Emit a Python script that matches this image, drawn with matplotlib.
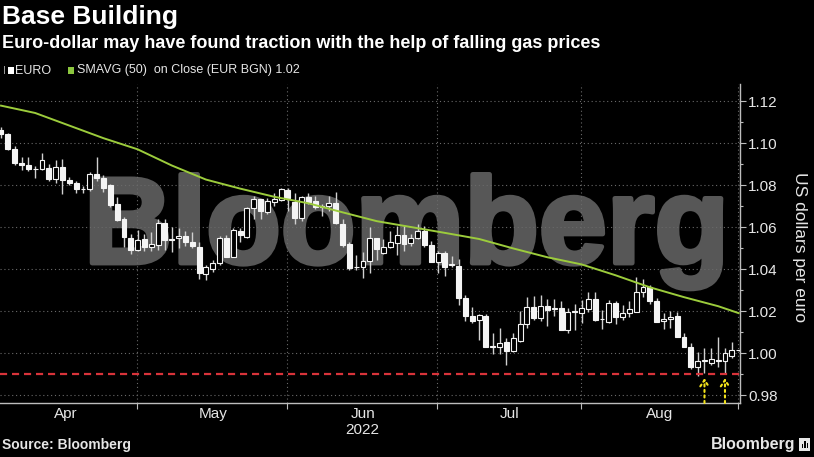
import matplotlib
matplotlib.use("Agg")
import matplotlib.pyplot as plt
from matplotlib.patches import Rectangle
import matplotlib.patheffects as pe
import pandas as pd

# ---------------- data ----------------
dates = pd.bdate_range("2022-04-01", "2022-08-31")

opens = [1.1066, 1.1046, 1.0972, 1.0906, 1.0899, 1.0880, 1.0880, 1.0885, 1.0830, 1.0888,
         1.0826, 1.0810, 1.0781, 1.0784, 1.0854, 1.0836, 1.0800, 1.0710, 1.0639, 1.0551,
         1.0493, 1.0545, 1.0505, 1.0516, 1.0622, 1.0545, 1.0550, 1.0558, 1.0529, 1.0508,
         1.0378, 1.0401, 1.0432, 1.0548, 1.0461, 1.0583, 1.0556, 1.0691, 1.0734, 1.0672,
         1.0722, 1.0730, 1.0778, 1.0722, 1.0646, 1.0746, 1.0725, 1.0698, 1.0700, 1.0715,
         1.0616, 1.0521, 1.0410, 1.0410, 1.0441, 1.0548, 1.0480, 1.0508, 1.0527, 1.0564,
         1.0524, 1.0548, 1.0583, 1.0516, 1.0437, 1.0480, 1.0421, 1.0416, 1.0263, 1.0179,
         1.0157, 1.0178, 1.0033, 1.0032, 1.0056, 1.0013, 1.0061, 1.0140, 1.0222, 1.0171,
         1.0225, 1.0211, 1.0215, 1.0112, 1.0199, 1.0194, 1.0210, 1.0258, 1.0162, 1.0151,
         1.0242, 1.0175, 1.0194, 1.0199, 1.0294, 1.0315, 1.0251, 1.0154, 1.0162, 1.0178,
         1.0080, 1.0029, 0.9934, 0.9966, 0.9956, 0.9967, 0.9966, 0.9988, 1.0014]
highs = [1.1076, 1.1048, 1.0990, 1.0937, 1.0936, 1.0893, 1.0953, 1.0900, 1.0923, 1.0924,
         1.0838, 1.0820, 1.0797, 1.0866, 1.0936, 1.0852, 1.0806, 1.0745, 1.0651, 1.0571,
         1.0590, 1.0570, 1.0576, 1.0640, 1.0641, 1.0600, 1.0595, 1.0585, 1.0578, 1.0529,
         1.0420, 1.0444, 1.0558, 1.0566, 1.0598, 1.0598, 1.0697, 1.0748, 1.0737, 1.0740,
         1.0765, 1.0787, 1.0786, 1.0765, 1.0750, 1.0765, 1.0750, 1.0710, 1.0749, 1.0770,
         1.0640, 1.0530, 1.0471, 1.0484, 1.0601, 1.0550, 1.0545, 1.0582, 1.0606, 1.0613,
         1.0570, 1.0615, 1.0605, 1.0535, 1.0486, 1.0486, 1.0463, 1.0450, 1.0277, 1.0220,
         1.0187, 1.0188, 1.0097, 1.0122, 1.0072, 1.0097, 1.0200, 1.0269, 1.0273, 1.0278,
         1.0257, 1.0259, 1.0250, 1.0214, 1.0234, 1.0254, 1.0293, 1.0294, 1.0207, 1.0254,
         1.0250, 1.0230, 1.0248, 1.0365, 1.0353, 1.0328, 1.0262, 1.0191, 1.0202, 1.0195,
         1.0095, 1.0049, 1.0008, 1.0025, 1.0028, 1.0080, 1.0025, 1.0056, 1.0016]
lows = [1.1028, 1.0967, 1.0898, 1.0874, 1.0867, 1.0836, 1.0875, 1.0820, 1.0810, 1.0757,
        1.0800, 1.0765, 1.0765, 1.0775, 1.0820, 1.0770, 1.0697, 1.0633, 1.0508, 1.0472,
        1.0487, 1.0490, 1.0490, 1.0493, 1.0493, 1.0484, 1.0500, 1.0510, 1.0500, 1.0355,
        1.0349, 1.0389, 1.0420, 1.0458, 1.0460, 1.0532, 1.0548, 1.0640, 1.0640, 1.0663,
        1.0700, 1.0725, 1.0680, 1.0617, 1.0630, 1.0710, 1.0688, 1.0653, 1.0677, 1.0615,
        1.0507, 1.0398, 1.0397, 1.0358, 1.0381, 1.0446, 1.0475, 1.0503, 1.0469, 1.0486,
        1.0510, 1.0545, 1.0507, 1.0436, 1.0382, 1.0370, 1.0410, 1.0232, 1.0156, 1.0143,
        1.0064, 1.0032, 0.9999, 0.9998, 0.9945, 1.0006, 1.0055, 1.0122, 1.0160, 1.0153,
        1.0130, 1.0180, 1.0110, 1.0097, 1.0113, 1.0147, 1.0195, 1.0155, 1.0115, 1.0145,
        1.0142, 1.0160, 1.0175, 1.0196, 1.0270, 1.0236, 1.0150, 1.0115, 1.0120, 1.0078,
        1.0029, 0.9926, 0.9893, 0.9906, 0.9946, 0.9937, 0.9906, 0.9977, 1.0012]
closes = [1.1046, 1.0972, 1.0906, 1.0899, 1.0880, 1.0877, 1.0922, 1.0829, 1.0890, 1.0826,
          1.0810, 1.0781, 1.0784, 1.0854, 1.0836, 1.0788, 1.0708, 1.0636, 1.0556, 1.0493,
          1.0540, 1.0505, 1.0521, 1.0622, 1.0540, 1.0538, 1.0560, 1.0529, 1.0510, 1.0382,
          1.0410, 1.0432, 1.0548, 1.0459, 1.0588, 1.0563, 1.0691, 1.0734, 1.0677, 1.0724,
          1.0734, 1.0781, 1.0738, 1.0643, 1.0746, 1.0722, 1.0697, 1.0702, 1.0714, 1.0620,
          1.0516, 1.0405, 1.0412, 1.0441, 1.0548, 1.0495, 1.0508, 1.0532, 1.0564, 1.0521,
          1.0551, 1.0583, 1.0516, 1.0437, 1.0480, 1.0410, 1.0423, 1.0263, 1.0179, 1.0156,
          1.0184, 1.0032, 1.0031, 1.0051, 1.0013, 1.0072, 1.0140, 1.0222, 1.0171, 1.0225,
          1.0209, 1.0213, 1.0112, 1.0199, 1.0198, 1.0215, 1.0258, 1.0159, 1.0163, 1.0242,
          1.0175, 1.0194, 1.0210, 1.0294, 1.0315, 1.0251, 1.0151, 1.0165, 1.0175, 1.0080,
          1.0029, 0.9937, 0.9966, 0.9967, 0.9972, 0.9965, 1.0000, 1.0014, 1.0014]

sma_dates = ["2022-04-01", "2022-04-08", "2022-04-15", "2022-04-22", "2022-04-29",
             "2022-05-06", "2022-05-13", "2022-05-20", "2022-05-27", "2022-06-03",
             "2022-06-10", "2022-06-17", "2022-06-24", "2022-07-01", "2022-07-08",
             "2022-07-15", "2022-07-22", "2022-07-29", "2022-08-05", "2022-08-12",
             "2022-08-19", "2022-08-26", "2022-08-31"]
sma_vals = [1.1180, 1.1145, 1.1085, 1.1025, 1.0972, 1.0895, 1.0828, 1.0785, 1.0746,
            1.0715, 1.0672, 1.0630, 1.0602, 1.0574, 1.0545, 1.0500, 1.0458, 1.0424,
            1.0372, 1.0315, 1.0268, 1.0225, 1.0192]

month_labels = ["Apr", "May", "Jun", "Jul", "Aug"]
y_ticks = [0.98, 1.00, 1.02, 1.04, 1.06, 1.08, 1.10, 1.12]
support_level = 0.99
arrow_dates = ["2022-08-24", "2022-08-29"]

# ---------------- figure ----------------
W, H = 814, 457
fig = plt.figure(figsize=(W / 100, H / 100), dpi=100, facecolor="black")
ax = fig.add_axes([0, (H - 403) / H, 740 / W, (403 - 84) / H])
ax.set_facecolor("black")

FONT = "Liberation Sans"
TXT = "#e6e6e6"

n = len(dates)
xs = list(range(n))
pos = {d.strftime("%Y-%m-%d"): i for i, d in enumerate(dates)}

# month boundaries = last trading day of each month
months = [d.month for d in dates]
bounds = [-1] + [i for i in range(n - 1) if months[i] != months[i + 1]] + [n - 1]
grid_x = [b - 0.1 for b in bounds[1:]]
label_x = [(bounds[k] + bounds[k + 1]) / 2 for k in range(len(bounds) - 1)]

# watermark
ax.text(84 / W, 1 - 263 / H, "Bloomberg", transform=fig.transFigure,
        fontsize=88, fontweight="bold", family=FONT, color="#575757",
        ha="left", va="baseline", zorder=0.5,
        path_effects=[pe.withStroke(linewidth=3.5, foreground="#575757")])

# grid
for gx in grid_x:
    ax.axvline(gx, color="#6a6a6a", lw=0.8, ls=(0, (1, 2.5)), zorder=1)
for yt in y_ticks:
    ax.axhline(yt, color="#6a6a6a", lw=0.8, ls=(0, (1, 2.5)), zorder=1)

# candles
bw = 0.72
for i in xs:
    o, h, l, c = opens[i], highs[i], lows[i], closes[i]
    ax.vlines(i, l, h, color="#d0d0d0", lw=1.0, zorder=3)
    bottom = min(o, c)
    height = max(abs(c - o), 0.00035)
    up = c > o
    ax.add_patch(Rectangle((i - bw / 2, bottom), bw, height,
                           facecolor="black" if up else "#f4f4f4",
                           edgecolor="#f4f4f4", lw=0.8, zorder=4))

# moving average
sma_x = [pos[d] for d in sma_dates]
ax.plot(sma_x, sma_vals, color="#9ccc3c", lw=1.4, zorder=5)

# support line
ax.axhline(support_level, color="#d8333a", lw=1.6, ls=(0, (3.2, 2.2)), zorder=5)

# arrows
for d in arrow_dates:
    xi = pos[d]
    ax.annotate("", xy=(xi, 0.9882), xytext=(xi, 0.9764),
                arrowprops=dict(arrowstyle="->,head_length=0.45,head_width=0.3",
                                color="#f2e21b", lw=1.5, linestyle=":",
                                shrinkA=0, shrinkB=0),
                zorder=6)

# axes limits
ax.set_xlim(-0.15, 108.2)
ax.set_ylim(0.9764, 1.1283)

# spines
for s in ["top", "left"]:
    ax.spines[s].set_visible(False)
ax.spines["bottom"].set_color("#bdbdbd")
ax.spines["right"].set_color("#bdbdbd")
ax.spines["bottom"].set_linewidth(1.0)
ax.spines["right"].set_linewidth(1.0)

# y axis on right
ax.yaxis.tick_right()
ax.set_yticks(y_ticks)
ax.set_yticklabels([f"{v:.2f}" for v in y_ticks], family=FONT, fontsize=11, color=TXT)
ax.set_yticks([v + 0.01 for v in y_ticks[:-1]], minor=True)
ax.tick_params(axis="y", which="major", length=4, width=0.8, color="#bdbdbd", pad=2)
ax.tick_params(axis="y", which="minor", length=2.5, width=0.8, color="#bdbdbd")
ax.tick_params(axis="y", which="both", left=False, right=True)

# x axis
ax.set_xticks(grid_x)
ax.set_xticklabels([""] * len(grid_x))
ax.set_xticks(label_x, minor=True)
ax.set_xticklabels(month_labels, minor=True, family=FONT, fontsize=11, color=TXT)
ax.tick_params(axis="x", which="major", length=4, width=0.8, color="#bdbdbd")
ax.tick_params(axis="x", which="minor", length=0, pad=3)

fig.text(362 / W, 1 - 430 / H, "2022", family=FONT, fontsize=11, color=TXT,
         ha="center", va="center")

# right axis label
fig.text(800 / W, 1 - 247 / H, "US dollars per euro", family=FONT, fontsize=12.5,
         color=TXT, rotation=-90, ha="center", va="center")

# titles
fig.text(2 / W, 1 - 17 / H, "Base Building", family=FONT, fontsize=19,
         fontweight="bold", color="white", ha="left", va="center")
fig.text(2 / W, 1 - 43 / H,
         "Euro-dollar may have found traction with the help of falling gas prices",
         family=FONT, fontsize=13, fontweight="bold", color="white",
         ha="left", va="center")

# legend
fig.patches.append(Rectangle((4 / W, 1 - 74 / H), 1 / W, 8 / H, transform=fig.transFigure,
                             facecolor="#999999", edgecolor="none"))
fig.patches.append(Rectangle((8 / W, 1 - 74 / H), 6 / W, 7 / H, transform=fig.transFigure,
                             facecolor="white", edgecolor="none"))
fig.text(15 / W, 1 - 70.5 / H, "EURO", family=FONT, fontsize=9, color=TXT,
         ha="left", va="center")
fig.patches.append(Rectangle((68 / W, 1 - 74 / H), 6 / W, 7 / H, transform=fig.transFigure,
                             facecolor="#8cc63f", edgecolor="none"))
fig.text(77 / W, 1 - 70.5 / H, "SMAVG (50)  on Close (EUR BGN) 1.02", family=FONT,
         fontsize=9, color=TXT, ha="left", va="center")

# footer
fig.text(2 / W, 1 - 445 / H, "Source: Bloomberg", family=FONT, fontsize=10,
         fontweight="bold", color=TXT, ha="left", va="center")
fig.text(795 / W, 1 - 444 / H, "Bloomberg", family=FONT, fontsize=11.5,
         fontweight="bold", color=TXT, ha="right", va="center")
fig.patches.append(Rectangle((799 / W, 1 - 451 / H), 11 / W, 13 / H,
                             transform=fig.transFigure, facecolor="#e6e6e6",
                             edgecolor="none"))
for bx, bh in [(801.5, 4), (804, 7), (806.5, 5)]:
    fig.patches.append(Rectangle((bx / W, 1 - 448 / H), 1.5 / W, bh / H,
                                 transform=fig.transFigure, facecolor="black",
                                 edgecolor="none"))

fig.savefig("out.png", dpi=100, facecolor="black")
